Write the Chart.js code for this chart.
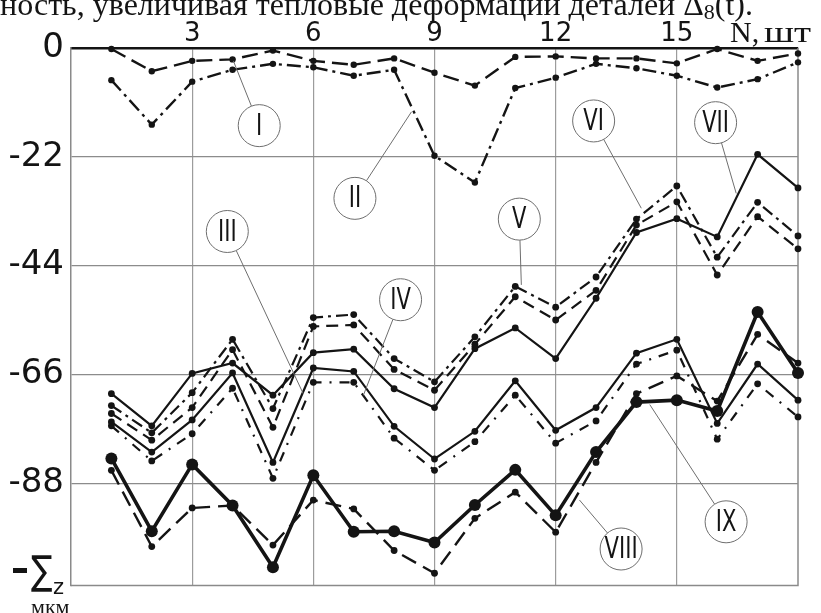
<!DOCTYPE html>
<html>
<head>
<meta charset="utf-8">
<script src="https://cdn.jsdelivr.net/npm/chart.js@4.4.1/dist/chart.umd.min.js"></script>
<style>
  html, body { margin: 0; padding: 0; background: #fff; }
  #wrap { width: 821px; height: 613px; }
</style>
</head>
<body>
<div id="wrap"><canvas id="js_sumChart" width="821" height="613"></canvas></div>
<script>
// N, шт - номер детали
const nValues = [1, 2, 3, 4, 5, 6, 7, 8, 9, 10, 11, 12, 13, 14, 15, 16, 17, 18];
const xTicks = [3, 6, 9, 12, 15];
const yTicks = [0, -22, -44, -66, -88];

// -Σz, мкм
const curveI = [-0.2, -4.7, -2.6, -2.3, -0.5, -2.6, -3.4, -2.1, -5.0, -7.6, -1.8, -1.7, -2.1, -2.1, -3.1, -0.2, -2.6, -1.1];
const curveII = [-6.5, -15.5, -6.8, -4.4, -3.2, -3.9, -5.6, -4.4, -21.8, -27.2, -8.1, -6.0, -3.2, -4.1, -5.6, -8.0, -6.3, -2.9];
const curveIII = [-75.6, -81.7, -75.2, -65.7, -83.8, -64.7, -65.4, -76.5, -83.1, -77.5, -67.3, -77.3, -72.7, -61.7, -58.9, -75.9, -63.9, -71.2];
const curveIV = [-76.4, -83.5, -78.0, -68.8, -87.0, -67.6, -67.6, -78.9, -85.4, -79.6, -70.2, -79.9, -75.4, -63.9, -61.1, -79.1, -67.9, -74.6];
const curveV = [-72.3, -77.8, -69.7, -58.9, -72.9, -54.5, -53.9, -62.8, -67.5, -58.4, -48.2, -52.4, -46.3, -34.6, -27.9, -42.3, -31.2, -38.0];
const curveVI = [-73.9, -79.3, -72.7, -61.0, -76.7, -56.3, -56.0, -65.0, -69.2, -59.9, -50.3, -55.0, -49.0, -35.8, -31.1, -45.9, -34.1, -40.6];
const curveVII = [-69.9, -76.4, -65.8, -63.7, -70.2, -61.6, -60.9, -68.9, -72.7, -60.8, -56.6, -62.8, -50.6, -37.3, -34.5, -38.2, -21.5, -28.3];
const curveVIII = [-85.4, -100.8, -93.0, -92.5, -100.5, -91.4, -93.2, -101.6, -106.2, -95.1, -89.8, -97.9, -83.8, -69.9, -66.3, -71.4, -57.9, -63.7];
const curveIX = [-83.0, -97.7, -84.2, -92.5, -105.0, -86.4, -97.8, -97.7, -100.0, -92.4, -85.3, -94.5, -81.7, -71.6, -71.2, -73.4, -53.4, -65.7];

const ink = '#141414';
const sans = '"DejaVu Sans", "Liberation Sans", sans-serif';
const serif = '"Liberation Serif", "DejaVu Serif", serif';

// line looks
const curves = [
  { data: curveI, dash: [16, 7], width: 2.4, radius: 3.2 },
  { data: curveII, dash: [14, 5, 3, 5], width: 2.4, radius: 3.2 },
  { data: curveIII, dash: [], width: 2.2, radius: 3.4 },
  { data: curveIV, dash: [10, 8, 2, 8], width: 2.2, radius: 3.4 },
  { data: curveV, dash: [12, 5, 3, 5], width: 2.2, radius: 3.4 },
  { data: curveVI, dash: [12, 7], width: 2.2, radius: 3.4 },
  { data: curveVII, dash: [], width: 2.2, radius: 3.4 },
  { data: curveVIII, dash: [16, 8], width: 2.4, radius: 3.4 },
  { data: curveIX, dash: [], width: 3.6, radius: 6 },
];

// circled numerals: circle centre and leader end, in axis units
const callouts = [
  { text: 'I', cx: 4.66, cy: -15.7, ex: 4.02, ey: -2.6 },
  { text: 'II', cx: 7.03, cy: -30.4, ex: 8.43, ey: -12.9 },
  { text: 'III', cx: 3.87, cy: -37.1, ex: 5.75, ey: -69.9 },
  { text: 'IV', cx: 8.16, cy: -50.9, ex: 7.24, ey: -70.2 },
  { text: 'V', cx: 11.1, cy: -34.6, ex: 11.15, ey: -47.9 },
  { text: 'VI', cx: 12.94, cy: -14.75, ex: 14.12, ey: -32.4 },
  { text: 'VII', cx: 15.96, cy: -15.1, ex: 16.47, ey: -29.4 },
  { text: 'VIII', cx: 13.62, cy: -101.3, ex: 12.59, ey: -91.4 },
  { text: 'IX', cx: 16.22, cy: -95.8, ex: 14.33, ey: -72.1 },
];

const framePlugin = {
  id: 'frame',
  beforeDatasetsDraw: (chart) => {
    const { ctx, chartArea: a } = chart;
    ctx.save();
    ctx.strokeStyle = '#8a8a8a';
    ctx.lineWidth = 1.5;
    ctx.beginPath();
    ctx.moveTo(a.right, a.top);
    ctx.lineTo(a.right, a.bottom);
    ctx.lineTo(a.left, a.bottom);
    ctx.stroke();
    ctx.restore();
  },
};

const calloutPlugin = {
  id: 'callouts',
  afterDatasetsDraw: (chart) => {
    const { ctx } = chart;
    const xs = chart.scales.x;
    const ys = chart.scales.y;
    const r = 21;
    ctx.save();
    callouts.forEach((c) => {
      const cx = xs.getPixelForValue(c.cx);
      const cy = ys.getPixelForValue(c.cy);
      const ex = xs.getPixelForValue(c.ex);
      const ey = ys.getPixelForValue(c.ey);
      const d = Math.hypot(ex - cx, ey - cy);
      ctx.strokeStyle = '#6e6e6e';
      ctx.lineWidth = 1;
      ctx.beginPath();
      ctx.moveTo(cx + (ex - cx) * r / d, cy + (ey - cy) * r / d);
      ctx.lineTo(ex, ey);
      ctx.stroke();
      ctx.fillStyle = '#fff';
      ctx.beginPath();
      ctx.arc(cx, cy, r, 0, Math.PI * 2);
      ctx.fill();
      ctx.stroke();
      // narrow numerals
      ctx.save();
      ctx.translate(cx, cy + 1);
      ctx.scale(0.68, 1);
      ctx.fillStyle = ink;
      ctx.font = '31px ' + sans;
      ctx.textAlign = 'center';
      ctx.textBaseline = 'middle';
      ctx.fillText(c.text, 0, 0);
      ctx.restore();
    });
    ctx.restore();
  },
};

const textPlugin = {
  id: 'texts',
  afterDraw: (chart) => {
    const { ctx } = chart;
    ctx.save();
    ctx.fillStyle = ink;
    ctx.textBaseline = 'alphabetic';
    ctx.textAlign = 'left';
    // cut caption line above the chart
    ctx.font = '32px ' + serif;
    const head = 'ность, увеличивая тепловые деформации деталей Δ';
    ctx.fillText(head, 0, 15);
    let w = ctx.measureText(head).width;
    ctx.font = '22px ' + serif;
    ctx.fillText('8', w, 19);
    w += ctx.measureText('8').width;
    ctx.font = '32px ' + serif;
    ctx.fillText('(t).', w, 15);
    // axis names
    ctx.font = '30px ' + serif;
    ctx.fillText('N,', 730, 42);
    ctx.save();
    ctx.translate(764, 42);
    ctx.scale(1.3, 1);
    ctx.fillText('шт', 0, 0);
    ctx.restore();
    ctx.fillRect(13, 568, 14, 5);
    ctx.save();
    ctx.translate(31, 584);
    ctx.scale(0.8, 1);
    ctx.font = '40px ' + sans;
    ctx.fillText('∑', 0, 0);
    ctx.restore();
    ctx.font = '21px ' + sans;
    ctx.fillText('z', 53, 594);
    ctx.font = '22px ' + serif;
    ctx.fillText('мкм', 31, 614);
    ctx.restore();
  },
};

document.addEventListener('DOMContentLoaded', () => {
  const ctx = document.getElementById('js_sumChart');

  const datasets = curves.map(c => ({
    data: nValues.map((n, i) => ({ x: n, y: c.data[i] })),
    borderColor: ink,
    backgroundColor: ink,
    borderWidth: c.width,
    borderDash: c.dash,
    pointRadius: c.radius,
    pointBorderWidth: 0,
    pointBackgroundColor: ink,
    tension: 0,
    clip: false,
  }));

  new Chart(ctx, {
    type: 'line',
    data: { datasets },
    options: {
      responsive: false,
      animation: false,
      devicePixelRatio: 1,
      layout: { padding: { left: 0, right: 23, top: 0, bottom: 5 } },
      plugins: { legend: { display: false }, tooltip: { enabled: false } },
      scales: {
        x: {
          type: 'linear',
          position: 'top',
          min: 0,
          max: 18,
          afterBuildTicks: (s) => { s.ticks = xTicks.map(v => ({ value: v })); },
          afterFit: (s) => { s.height = 48; },
          grid: { color: '#9c9c9c', lineWidth: 1.2, drawTicks: false },
          border: { color: ink, width: 2.5 },
          ticks: { color: ink, font: { family: 'DejaVu Sans', size: 26 }, padding: -2, maxRotation: 0 },
        },
        y: {
          type: 'linear',
          min: -108.7,
          max: 0,
          afterBuildTicks: (s) => { s.ticks = yTicks.map(v => ({ value: v })); },
          afterFit: (s) => { s.width = 71; },
          grid: { color: '#8c8c8c', lineWidth: 1.2, drawTicks: false },
          border: { color: '#8a8a8a', width: 1.5 },
          ticks: { color: ink, font: { family: 'DejaVu Sans', size: 34 }, padding: 7 },
        },
      },
    },
    plugins: [framePlugin, calloutPlugin, textPlugin],
  });
});
</script>
</body>
</html>
